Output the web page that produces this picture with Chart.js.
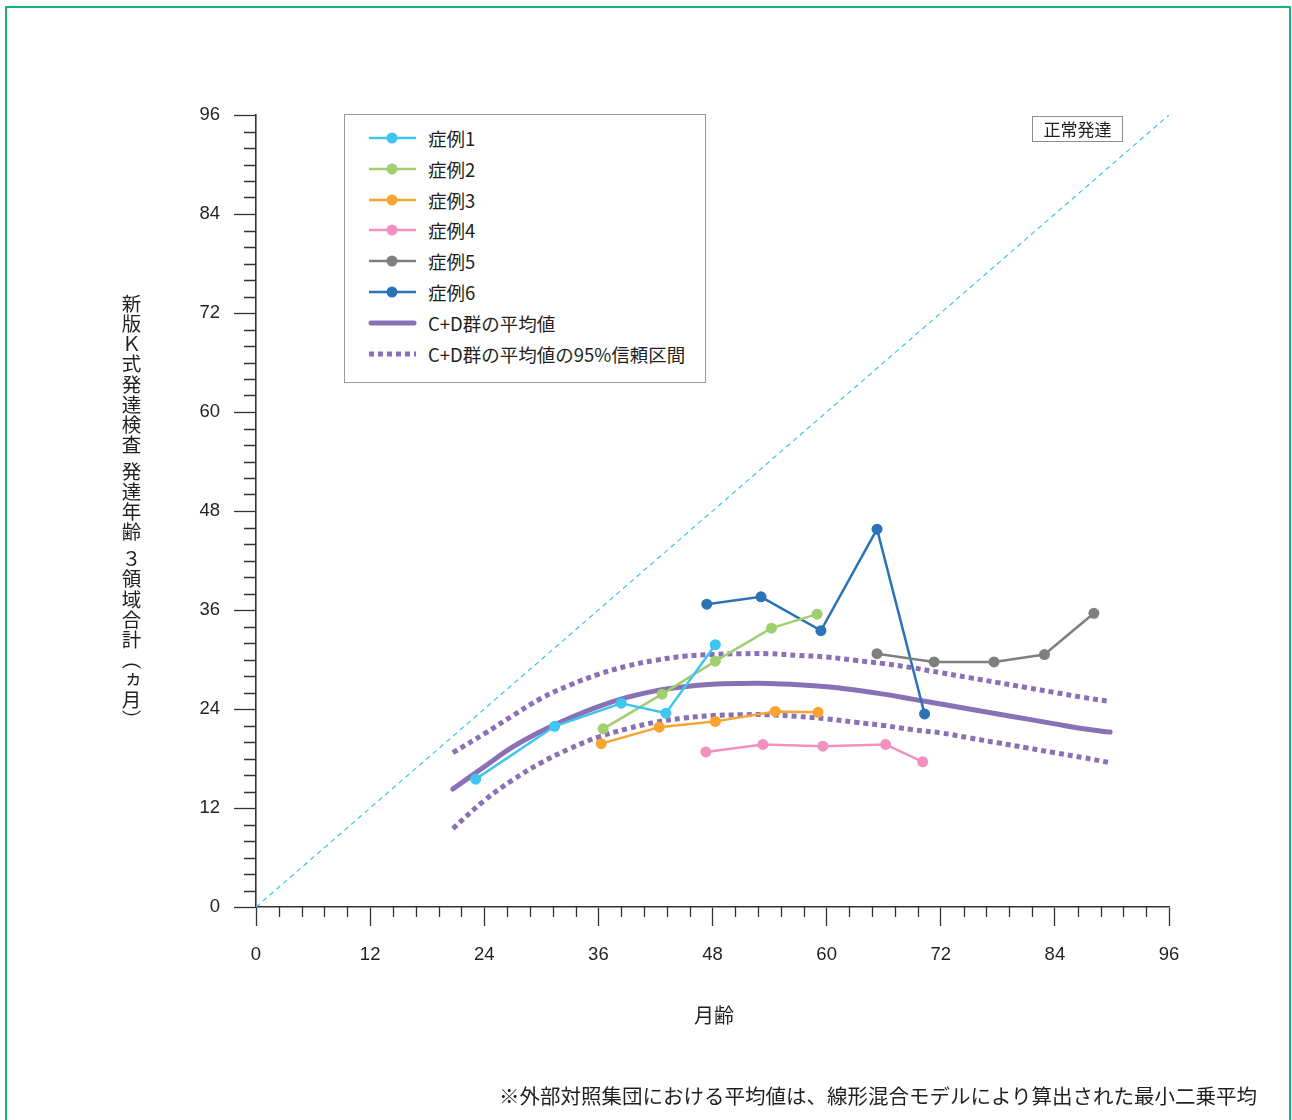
<!DOCTYPE html>
<html>
<head>
<meta charset="utf-8">
<script src="https://cdn.jsdelivr.net/npm/chart.js@4/dist/chart.umd.min.js"></script>
<style>
  body { margin: 0; background: #fff; }
  #wrap { position: relative; width: 1292px; height: 1120px; overflow: hidden;
          font-family: "Liberation Sans", "Noto Sans CJK JP", sans-serif; color: #231f20; }
  #frame { position: absolute; left: 5px; top: 6px; width: 1286px; height: 1130px;
           border: 2px solid #13b56f; box-sizing: border-box; }
  #chart { position: absolute; left: 0; top: 0; }
  .jp { font-family: "Noto Sans CJK JP", sans-serif; }
  #ytitle { position: absolute; left: 119px; top: 294px; writing-mode: vertical-rl;
            text-orientation: upright; font-size: 19.5px; line-height: 24px; letter-spacing: 0.6px; }
  #ytitle .gap { display: inline-block; height: 7px; }
  #xtitle { position: absolute; left: 0; width: 1428px; top: 1000px; text-align: center; font-size: 20px; }
  #note { position: absolute; right: 35px; top: 1080px; font-size: 20.5px; }
  #normal { position: absolute; left: 1032px; top: 116px; width: 91px; height: 26px; box-sizing: border-box;
            border: 1px solid #8d8d8d; font-size: 17px; line-height: 24px; text-align: center; }
  #legend { position: absolute; left: 344px; top: 114px; width: 362px; height: 269px; box-sizing: border-box;
            border: 1px solid #9a9a9a; background: #fff; }
  .row { position: absolute; left: 23px; height: 24px; display: flex; align-items: center; font-size: 18.5px; }
  .row svg { margin-right: 11px; }
</style>
</head>
<body>
<div id="wrap">
  <div id="frame"></div>
  <canvas id="chart" width="1292" height="1120"></canvas>
  <div id="ytitle" class="jp">新版Ｋ式発達検査<span class="gap"></span>発達年齢<span class="gap"></span>３領域合計（ヵ月）</div>
  <div id="xtitle" class="jp">月齢</div>
  <div id="note" class="jp">※外部対照集団における平均値は、線形混合モデルにより算出された最小二乗平均</div>
  <div id="normal" class="jp">正常発達</div>
  <div id="legend"></div>
</div>
<script>
// reference line (normal development)
const refAge = [0, 96];
const refDev = [0, 96];

// individual cases: age in months / developmental age
const case1Age = [23.1, 31.4, 38.4, 43.1, 48.3];
const case1Dev = [15.5, 21.9, 24.7, 23.5, 31.8];
const case2Age = [36.5, 42.7, 48.3, 54.2, 59.0];
const case2Dev = [21.6, 25.8, 29.8, 33.8, 35.5];
const case3Age = [36.3, 42.4, 48.3, 54.6, 59.1];
const case3Dev = [19.8, 21.8, 22.5, 23.7, 23.6];
const case4Age = [47.3, 53.3, 59.6, 66.2, 70.1];
const case4Dev = [18.8, 19.7, 19.5, 19.7, 17.6];
const case5Age = [65.3, 71.3, 77.6, 82.9, 88.1];
const case5Dev = [30.7, 29.7, 29.7, 30.6, 35.6];
const case6Age = [47.4, 53.1, 59.4, 65.3, 70.3];
const case6Dev = [36.7, 37.6, 33.5, 45.8, 23.4];

// C+D group mean and 95% CI
const fitAge  = [20.7, 24, 27, 30, 33, 36, 39, 42, 45, 48, 51, 54, 57, 60, 63, 66, 69, 72, 75, 78, 81, 84, 87, 89.8];
const fitMean = [14.3, 17.0, 19.4, 21.3, 22.9, 24.3, 25.4, 26.2, 26.7, 27.0, 27.1, 27.1, 26.95, 26.7, 26.3, 25.8, 25.2, 24.6, 24.0, 23.4, 22.8, 22.2, 21.6, 21.2];
const fitUpper = [18.7, 21.0, 23.2, 25.3, 26.9, 28.2, 29.2, 29.9, 30.4, 30.6, 30.7, 30.7, 30.5, 30.3, 29.9, 29.5, 29.0, 28.4, 27.8, 27.2, 26.6, 26.0, 25.4, 24.9];
const fitLower = [9.5, 12.9, 15.4, 17.5, 19.2, 20.6, 21.6, 22.4, 22.9, 23.2, 23.3, 23.3, 23.1, 22.8, 22.4, 22.0, 21.5, 21.1, 20.5, 19.9, 19.3, 18.7, 18.1, 17.5];

const caseNames = ['症例1', '症例2', '症例3', '症例4', '症例5', '症例6'];
const caseColors = ['#3ec5f0', '#9fcf6e', '#f7a432', '#f291bd', '#7f7f82', '#2b72b8'];
const purple = '#8a70b4';

function pts(xs, ys) { return xs.map((x, i) => ({ x: x, y: ys[i] })); }

const cases = [[case1Age, case1Dev], [case2Age, case2Dev], [case3Age, case3Dev],
               [case4Age, case4Dev], [case5Age, case5Dev], [case6Age, case6Dev]];

const datasets = cases.map((c, i) => ({
  label: caseNames[i],
  data: pts(c[0], c[1]),
  borderColor: caseColors[i],
  backgroundColor: caseColors[i],
  borderWidth: 2.5,
  pointRadius: 5.5,
  pointBorderWidth: 0,
  tension: 0
}));
datasets.push({
  label: 'C+D群の平均値',
  data: pts(fitAge, fitMean),
  borderColor: purple, borderWidth: 5, pointRadius: 0,
  tension: 0.4, borderCapStyle: 'round'
});
datasets.push({
  label: 'C+D群の平均値の95%信頼区間',
  data: pts(fitAge, fitUpper),
  borderColor: purple, borderWidth: 5, borderDash: [5, 4], pointRadius: 0,
  tension: 0.4
});
datasets.push({
  label: 'lower',
  data: pts(fitAge, fitLower),
  borderColor: purple, borderWidth: 5, borderDash: [5, 4], pointRadius: 0,
  tension: 0.4
});
datasets.push({
  label: '正常発達',
  data: pts(refAge, refDev),
  borderColor: '#3ec5f0', borderWidth: 1.2, borderDash: [5, 4], pointRadius: 0, tension: 0
});

// minor ticks, shorter than the major ones
const minorTicks = {
  id: 'minorTicks',
  afterDraw(chart) {
    const ctx = chart.ctx, xs = chart.scales.x, ys = chart.scales.y;
    const a = chart.chartArea;
    ctx.save();
    ctx.strokeStyle = '#333';
    ctx.lineWidth = 1.3;
    ctx.beginPath();
    for (let v = 2; v < 96; v += 2) {
      if (v % 12 === 0) continue;
      const py = Math.round(ys.getPixelForValue(v)) + 0.5;
      ctx.moveTo(a.left - 12, py); ctx.lineTo(a.left, py);
    }
    for (let k = 1; k < 40; k++) {
      if (k % 5 === 0) continue;
      const px = Math.round(xs.getPixelForValue(k * 2.4)) + 0.5;
      ctx.moveTo(px, a.bottom); ctx.lineTo(px, a.bottom + 10);
    }
    ctx.stroke();
    ctx.restore();
  }
};

const tickFont = { family: '"Liberation Sans", Arial, sans-serif', size: 18.5 };

new Chart(document.getElementById('chart').getContext('2d'), {
  type: 'line',
  data: { datasets: datasets },
  options: {
    responsive: false,
    animation: false,
    layout: { padding: { left: 0, top: 115, right: 123, bottom: 0 } },
    plugins: { legend: { display: false }, tooltip: { enabled: false } },
    scales: {
      x: {
        type: 'linear', min: 0, max: 96,
        ticks: { stepSize: 12, color: '#231f20', font: tickFont, padding: 18, maxRotation: 0 },
        grid: { drawOnChartArea: false, tickLength: 19, tickColor: '#333', tickWidth: 1.3 },
        border: { color: '#333', width: 1.6 },
        afterFit(s) { s.height = 1120 - 907; }
      },
      y: {
        type: 'linear', min: 0, max: 96,
        ticks: { stepSize: 12, color: '#231f20', font: tickFont, padding: 14 },
        grid: { drawOnChartArea: false, tickLength: 22, tickColor: '#333', tickWidth: 1.3 },
        border: { color: '#333', width: 1.6 },
        afterFit(s) { s.width = 256; }
      }
    }
  },
  plugins: [minorTicks]
});

// legend box
const legendRows = caseNames.map((n, i) => ({ name: n, color: caseColors[i], kind: 'case' }));
legendRows.push({ name: 'C+D群の平均値', color: purple, kind: 'mean' });
legendRows.push({ name: 'C+D群の平均値の95%信頼区間', color: purple, kind: 'ci' });
const legend = document.getElementById('legend');
legendRows.forEach((r, i) => {
  const row = document.createElement('div');
  row.className = 'row';
  row.style.top = (11 + i * 30.8) + 'px';
  let svg;
  if (r.kind === 'case') {
    svg = '<line x1="1" y1="12" x2="48" y2="12" stroke="' + r.color + '" stroke-width="2.5"/>' +
          '<circle cx="24" cy="12" r="5.5" fill="' + r.color + '"/>';
  } else if (r.kind === 'mean') {
    svg = '<line x1="3" y1="12" x2="46" y2="12" stroke="' + r.color + '" stroke-width="5" stroke-linecap="round"/>';
  } else {
    svg = '<line x1="1" y1="12" x2="48" y2="12" stroke="' + r.color + '" stroke-width="5" stroke-dasharray="5 4"/>';
  }
  row.innerHTML = '<svg width="49" height="24">' + svg + '</svg><span class="jp">' + r.name + '</span>';
  legend.appendChild(row);
});
</script>
</body>
</html>
